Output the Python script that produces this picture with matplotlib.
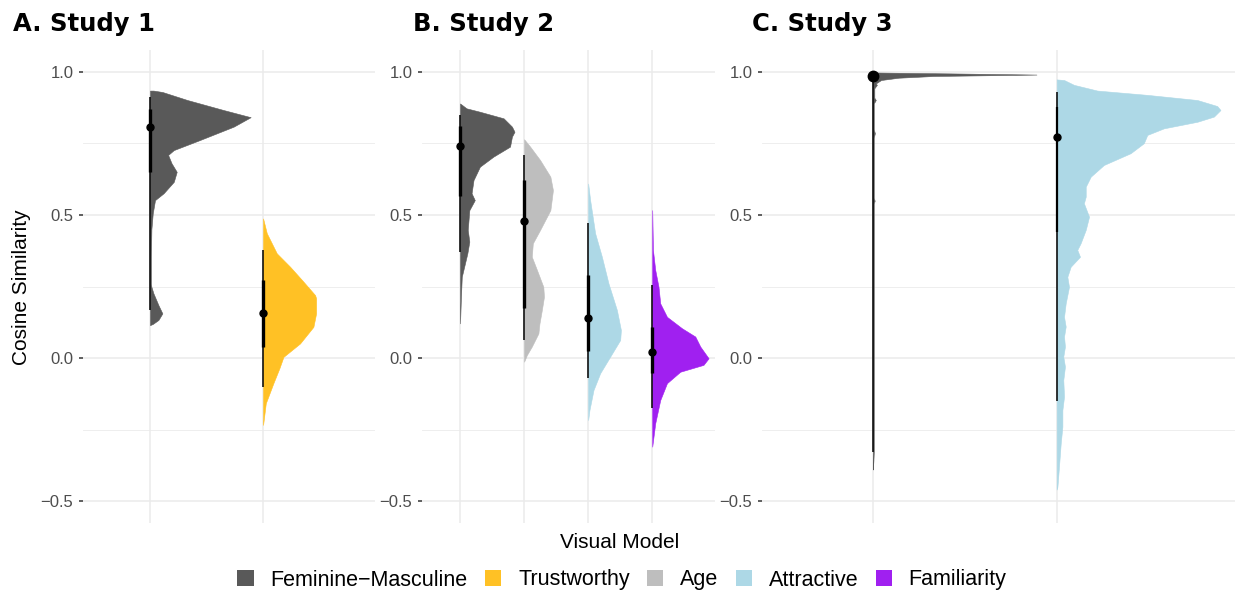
"""
Raincloud-style half-eye plots of cosine similarity per visual model,
one panel per study.
"""

import matplotlib.pyplot as plt
from matplotlib.patches import Patch
import numpy as np

plt.rcParams["font.family"] = ["Liberation Sans", "DejaVu Sans"]

COLORS = {
    "Feminine\u2212Masculine": "#595959",
    "Trustworthy": "#FFC125",
    "Age": "#BEBEBE",
    "Attractive": "#ADD8E6",
    "Familiarity": "#A020F0",
}
FM, TR, AGE, ATT, FAM = list(COLORS.keys())

# density outlines: (cosine similarity, half-width in category units)
s1_fm_y = [0.935, 0.930, 0.902, 0.867, 0.842, 0.809, 0.762, 0.727, 0.710, 0.681, 0.651,
           0.616, 0.576, 0.552, 0.506, 0.45, 0.35, 0.26, 0.249, 0.226, 0.185, 0.156,
           0.133, 0.119, 0.115]
s1_fm_w = [0.03, 0.11, 0.33, 0.65, 0.89, 0.74, 0.44, 0.21, 0.16, 0.19, 0.236,
           0.21, 0.12, 0.044, 0.024, 0.012, 0.008, 0.008, 0.012, 0.03, 0.074, 0.109,
           0.074, 0.024, 0.0]
s1_tr_y = [0.488, 0.436, 0.366, 0.319, 0.27, 0.22, 0.209, 0.156, 0.109, 0.051, 0.004,
           -0.036, -0.088, -0.158, -0.234]
s1_tr_w = [0.0, 0.033, 0.121, 0.239, 0.35, 0.46, 0.469, 0.469, 0.445, 0.327, 0.18,
           0.144, 0.091, 0.024, 0.0]

s2_fm_y = [0.89, 0.885, 0.873, 0.861, 0.838, 0.809, 0.791, 0.774, 0.739, 0.704, 0.669,
           0.622, 0.576, 0.552, 0.517, 0.448, 0.407, 0.366, 0.284, 0.203, 0.121]
s2_fm_w = [0.0, 0.03, 0.10, 0.31, 0.68, 0.81, 0.85, 0.81, 0.78, 0.52, 0.31,
           0.21, 0.18, 0.23, 0.145, 0.12, 0.145, 0.114, 0.027, 0.012, 0.0]
s2_age_y = [0.765, 0.739, 0.692, 0.634, 0.587, 0.517, 0.448, 0.401, 0.354, 0.308, 0.249,
            0.214, 0.168, 0.121, 0.086, 0.040, 0.010, -0.013]
s2_age_w = [0.0, 0.094, 0.25, 0.41, 0.45, 0.41, 0.25, 0.136, 0.12, 0.2, 0.30,
            0.31, 0.277, 0.24, 0.223, 0.12, 0.042, 0.0]
s2_att_y = [0.61, 0.552, 0.436, 0.354, 0.261, 0.168, 0.098, 0.063, 0.005, -0.053,
            -0.112, -0.182, -0.217]
s2_att_w = [0.0, 0.031, 0.109, 0.214, 0.317, 0.448, 0.511, 0.5, 0.344, 0.1875,
            0.083, 0.02, 0.0]
s2_fam_y = [0.517, 0.378, 0.308, 0.249, 0.191, 0.144, 0.104, 0.075, 0.040, -0.001,
            -0.024, -0.048, -0.088, -0.147, -0.228, -0.31]
s2_fam_w = [0.0, 0.011, 0.047, 0.098, 0.125, 0.23, 0.464, 0.672, 0.75, 0.88,
            0.80, 0.4375, 0.23, 0.125, 0.047, 0.0]

s3_fm_y = [0.999, 0.998, 0.995, 0.991, 0.986, 0.980, 0.972, 0.96, 0.955, 0.943, 0.91,
           0.902, 0.89, 0.80, 0.786, 0.77, 0.56, 0.55, 0.54, -0.33, -0.36, -0.39]
s3_fm_w = [0.0, 0.04, 0.43, 0.89, 0.33, 0.14, 0.045, 0.016, 0.022, 0.008, 0.008,
           0.016, 0.005, 0.005, 0.011, 0.005, 0.005, 0.01, 0.005, 0.005, 0.003, 0.0]
s3_att_y = [0.974, 0.972, 0.955, 0.935, 0.92, 0.902, 0.881, 0.867, 0.844, 0.826, 0.803,
            0.78, 0.751, 0.716, 0.675, 0.634, 0.599, 0.564, 0.541, 0.494, 0.448, 0.401,
            0.378, 0.354, 0.319, 0.284, 0.249, 0.191, 0.144, 0.11, 0.075, 0.04, 0.005,
            -0.03, -0.077, -0.135, -0.182, -0.24, -0.298, -0.38, -0.45, -0.46]
s3_att_w = [0.0, 0.04, 0.094, 0.221, 0.493, 0.765, 0.873, 0.891, 0.855, 0.765, 0.583,
            0.493, 0.474, 0.402, 0.257, 0.185, 0.158, 0.158, 0.148, 0.176, 0.158, 0.13,
            0.112, 0.127, 0.076, 0.058, 0.067, 0.049, 0.04, 0.049, 0.04, 0.045, 0.036,
            0.045, 0.036, 0.04, 0.031, 0.031, 0.022, 0.0125, 0.004, 0.0]

# point summaries: median, 66% interval, 95% interval
s1_median = [0.809, 0.158]
s1_inner = [(0.651, 0.87), (0.04, 0.273)]
s1_outer = [(0.168, 0.914), (-0.1, 0.378)]
s2_median = [0.742, 0.479, 0.139, 0.02]
s2_inner = [(0.568, 0.811), (0.174, 0.622), (0.023, 0.29), (-0.053, 0.11)]
s2_outer = [(0.372, 0.85), (0.063, 0.71), (-0.071, 0.471), (-0.176, 0.255)]
s3_median = [0.987, 0.774]
s3_inner = [(0.97, 0.995), (0.442, 0.879)]
s3_outer = [(-0.33, 0.995), (-0.152, 0.931)]

studies = [
    {
        "title": "A. Study 1",
        "models": [FM, TR],
        "dens": [(s1_fm_y, s1_fm_w), (s1_tr_y, s1_tr_w)],
        "median": s1_median, "inner": s1_inner, "outer": s1_outer,
        "box": (83, 375), "xlim": (0.407, 2.99), "title_x": 13,
        "thick": 2.4, "ms": 5.0,
    },
    {
        "title": "B. Study 2",
        "models": [FM, AGE, ATT, FAM],
        "dens": [(s2_fm_y, s2_fm_w), (s2_age_y, s2_age_w),
                 (s2_att_y, s2_att_w), (s2_fam_y, s2_fam_w)],
        "median": s2_median, "inner": s2_inner, "outer": s2_outer,
        "box": (422, 715), "xlim": (0.406, 4.98), "title_x": 413,
        "thick": 2.4, "ms": 5.0,
    },
    {
        "title": "C. Study 3",
        "models": [FM, ATT],
        "dens": [(s3_fm_y, s3_fm_w), (s3_att_y, s3_att_w)],
        "median": s3_median, "inner": s3_inner, "outer": s3_outer,
        "box": (762, 1235), "xlim": (0.397, 2.97), "title_x": 752,
        "thick": 1.6, "ms": 5.0,
    },
]

W, H = 1235, 594
fig = plt.figure(figsize=(W / 100, H / 100), dpi=100)
fig.patch.set_facecolor("white")

top_px, bottom_px = 50, 523
ylim = (-0.5769, 1.0769)

for i, st in enumerate(studies):
    left, right = st["box"]
    ax = fig.add_axes([left / W, 1 - bottom_px / H, (right - left) / W,
                       (bottom_px - top_px) / H])
    ax.set_xlim(*st["xlim"])
    ax.set_ylim(*ylim)
    for s in ax.spines.values():
        s.set_visible(False)

    # grid
    for yv in [-0.5, 0.0, 0.5, 1.0]:
        ax.axhline(yv, color="#EBEBEB", lw=1.1, zorder=0)
    for yv in [-0.25, 0.25, 0.75]:
        ax.axhline(yv, color="#EBEBEB", lw=0.6, zorder=0)
    for k in range(len(st["models"])):
        ax.axvline(k + 1, color="#EBEBEB", lw=1.1, zorder=0)

    for k, model in enumerate(st["models"]):
        x0 = k + 1
        yv, wv = st["dens"][k]
        yv = np.array(yv)
        wv = np.array(wv)
        ax.fill_betweenx(yv, x0, x0 + wv, color=COLORS[model], lw=0.4,
                         edgecolor=COLORS[model], zorder=2)
        lo, hi = st["outer"][k]
        ax.plot([x0, x0], [lo, hi], color="black", lw=1.1, zorder=3,
                solid_capstyle="butt")
        lo, hi = st["inner"][k]
        ax.plot([x0, x0], [lo, hi], color="black", lw=st["thick"], zorder=3,
                solid_capstyle="butt")
        ms = st["ms"] + (2.5 if (i == 2 and k == 0) else 0)
        ax.plot(x0, st["median"][k], "o", color="black", ms=ms, zorder=4)

    ax.set_xticks([])
    ax.set_yticks([-0.5, 0.0, 0.5, 1.0])
    ax.set_yticklabels(["\u22120.5", "0.0", "0.5", "1.0"])
    ax.tick_params(axis="y", length=3.0, width=1.1, color="#333333", pad=4,
                   labelsize=12, labelcolor="#4D4D4D")

    fig.text(st["title_x"] / W, 1 - 31 / H, st["title"], fontsize=17.5,
             fontweight="bold", family="DejaVu Sans", ha="left", va="baseline")

fig.text(22 / W, 1 - 287 / H, "Cosine Similarity", rotation=90, fontsize=15,
         ha="center", va="center", color="black")
fig.text(620 / W, 1 - 543 / H, "Visual Model", fontsize=15,
         ha="center", va="center", color="black")

handles = [Patch(facecolor=c, edgecolor="none") for c in COLORS.values()]
fig.legend(handles, list(COLORS.keys()), loc="center",
           bbox_to_anchor=(622 / W, 1 - 580 / H), ncol=5, frameon=False,
           fontsize=15.5, handlelength=0.75, handleheight=0.82,
           handletextpad=0.79, columnspacing=0.8, borderpad=0)

fig.savefig("out.png", dpi=100)
